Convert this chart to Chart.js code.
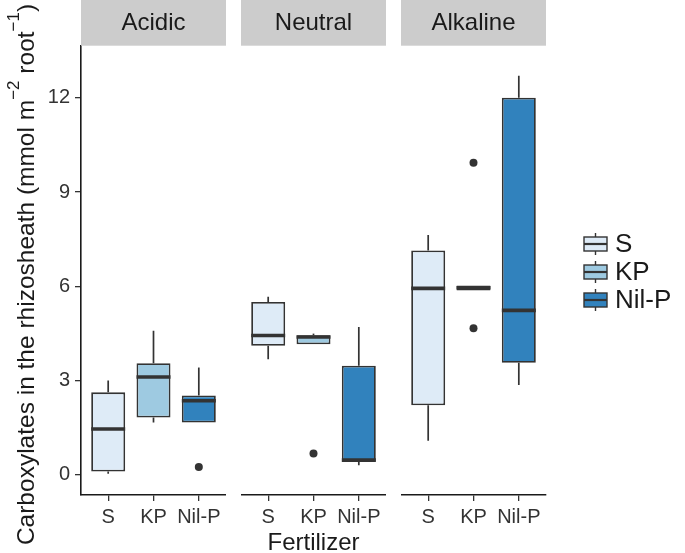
<!DOCTYPE html>
<html><head><meta charset="utf-8">
<script src="https://cdn.jsdelivr.net/npm/chart.js@4/dist/chart.umd.min.js"></script>
<style>
html,body{margin:0;padding:0;background:#fff;}
#wrap{position:relative;width:685px;height:553px;overflow:hidden;background:#fff;}
canvas{position:absolute;top:0;}
</style></head><body>
<div id="wrap">
<canvas id="c0" style="left:0px" width="226" height="553"></canvas>
<canvas id="c1" style="left:241px" width="145" height="553"></canvas>
<canvas id="c2" style="left:401px" width="284" height="553"></canvas>
</div>
<script>
// ---------- data ----------
const soils = ["Acidic", "Neutral", "Alkaline"];
const fertilizers = ["S", "KP", "Nil-P"];
const fillColors = ["#DEEBF7", "#9ECAE1", "#3182BD"];
const yTicks = [0, 3, 6, 9, 12];
const xTitle = "Fertilizer";
const yTitleParts = [
  {text: "Carboxylates in the rhizosheath (mmol m", sup: false},
  {text: "\u22122", sup: true},
  {text: " root", sup: false},
  {text: "\u22121", sup: true},
  {text: ")", sup: false}
];

// values per fertilizer [S, KP, Nil-P]
const acidicMin      = [0.03, 1.66, 1.66];
const acidicQ1       = [0.10, 1.82, 1.66];
const acidicMedian   = [1.45, 3.11, 2.35];
const acidicQ3       = [2.62, 3.55, 2.52];
const acidicMax      = [3.00, 4.58, 3.41];
const acidicOutliers = [[], [], [0.24]];

const neutralMin      = [3.67, 4.15, 0.30];
const neutralQ1       = [4.10, 4.15, 0.41];
const neutralMedian   = [4.43, 4.38, 0.46];
const neutralQ3       = [5.50, 4.44, 3.47];
const neutralMax      = [5.66, 4.49, 4.70];
const neutralOutliers = [[], [0.67], []];

const alkalineMin      = [1.08, 5.86, 2.85];
const alkalineQ1       = [2.21, 5.86, 3.56];
const alkalineMedian   = [5.93, 5.95, 5.23];
const alkalineQ3       = [7.14, 6.02, 12.00];
const alkalineMax      = [7.63, 6.02, 12.70];
const alkalineOutliers = [[], [9.93, 4.66], []];

const panels = [
  {min: acidicMin, q1: acidicQ1, med: acidicMedian, q3: acidicQ3, max: acidicMax, out: acidicOutliers},
  {min: neutralMin, q1: neutralQ1, med: neutralMedian, q3: neutralQ3, max: neutralMax, out: neutralOutliers},
  {min: alkalineMin, q1: alkalineQ1, med: alkalineMedian, q3: alkalineQ3, max: alkalineMax, out: alkalineOutliers}
];

// ---------- style ----------
const FONT = '"Liberation Sans", Arial, Helvetica, sans-serif';
const DARK = '#333333';

function makeBoxPlugin(st) {
  return {
    id: 'boxParts',
    beforeDatasetsDraw(chart) {
      const {ctx, scales: {x, y}} = chart;
      ctx.save();
      ctx.strokeStyle = DARK; ctx.lineWidth = 1.7;
      st.med.forEach((m, i) => {
        const px = x.getPixelForValue(i + 1);
        ctx.beginPath();
        ctx.moveTo(px, y.getPixelForValue(st.max[i])); ctx.lineTo(px, y.getPixelForValue(st.q3[i]));
        ctx.moveTo(px, y.getPixelForValue(st.q1[i])); ctx.lineTo(px, y.getPixelForValue(st.min[i]));
        ctx.stroke();
      });
      ctx.restore();
    },
    afterDatasetsDraw(chart) {
      const {ctx, scales: {y}} = chart;
      const meta = chart.getDatasetMeta(0);
      ctx.save();
      ctx.strokeStyle = DARK; ctx.lineWidth = 3.6; ctx.lineCap = 'butt';
      st.med.forEach((m, i) => {
        const bar = meta.data[i];
        const py = y.getPixelForValue(m);
        ctx.beginPath();
        ctx.moveTo(bar.x - bar.width / 2, py); ctx.lineTo(bar.x + bar.width / 2, py);
        ctx.stroke();
      });
      ctx.restore();
    }
  };
}

function makeStripPlugin(label) {
  return {
    id: 'strip',
    afterDraw(chart) {
      const {ctx, chartArea: a} = chart;
      ctx.save();
      ctx.fillStyle = '#CCCCCC';
      ctx.fillRect(a.left, 0, a.right - a.left, a.top - 0.3);
      ctx.fillStyle = '#1A1A1A';
      ctx.font = '24px ' + FONT;
      ctx.textAlign = 'center'; ctx.textBaseline = 'middle';
      ctx.fillText(label, (a.left + a.right) / 2, 23.5);
      ctx.restore();
    }
  };
}

const yTitlePlugin = {
  id: 'yTitle',
  afterDraw(chart) {
    const {ctx, chartArea: a} = chart;
    const size = 24.5, supSize = 17;
    ctx.save();
    ctx.translate(34, (a.top + a.bottom) / 2 + 4);
    ctx.rotate(-Math.PI / 2);
    ctx.fillStyle = '#1A1A1A';
    ctx.textBaseline = 'alphabetic';
    let total = 0;
    yTitleParts.forEach(p => { ctx.font = (p.sup ? supSize : size) + 'px ' + FONT; total += ctx.measureText(p.text).width; });
    let xx = -total / 2;
    yTitleParts.forEach(p => {
      ctx.font = (p.sup ? supSize : size) + 'px ' + FONT;
      ctx.fillText(p.text, xx, p.sup ? -15 : 0);
      xx += ctx.measureText(p.text).width;
    });
    ctx.restore();
  }
};

const legendPlugin = {
  id: 'boxLegend',
  afterDraw(chart) {
    const {ctx} = chart;
    const offsetLeft = 401;
    const rows = [244, 272, 300];
    ctx.save();
    fertilizers.forEach((f, i) => {
      const cy = rows[i];
      const x0 = 584 - offsetLeft, x1 = 607 - offsetLeft, cx = (x0 + x1) / 2;
      ctx.strokeStyle = DARK; ctx.lineWidth = 1.4;
      ctx.beginPath();
      ctx.moveTo(cx, cy - 11); ctx.lineTo(cx, cy - 7);
      ctx.moveTo(cx, cy + 7); ctx.lineTo(cx, cy + 11);
      ctx.stroke();
      ctx.fillStyle = fillColors[i];
      ctx.fillRect(x0, cy - 7, x1 - x0, 14);
      ctx.strokeRect(x0, cy - 7, x1 - x0, 14);
      ctx.lineWidth = 2.2;
      ctx.beginPath(); ctx.moveTo(x0, cy); ctx.lineTo(x1, cy); ctx.stroke();
      ctx.fillStyle = '#1A1A1A';
      ctx.font = '26px ' + FONT;
      ctx.textAlign = 'left'; ctx.textBaseline = 'middle';
      ctx.fillText(f, 615 - offsetLeft, cy + 1);
    });
    ctx.restore();
  }
};

function buildChart(canvasId, idx) {
  const st = panels[idx];
  const boxData = fertilizers.map((f, i) => ({x: i + 1, y: [st.q1[i], st.q3[i]]}));
  const outData = [];
  st.out.forEach((arr, i) => arr.forEach(v => outData.push({x: i + 1, y: v})));
  const first = idx === 0;
  const last = idx === 2;
  const plugins = [makeBoxPlugin(st), makeStripPlugin(soils[idx])];
  if (first) plugins.push(yTitlePlugin);
  if (last) plugins.push(legendPlugin);
  return new Chart(document.getElementById(canvasId), {
    type: 'bar',
    data: {
      datasets: [
        {type: 'bar', data: boxData, backgroundColor: fillColors, borderColor: DARK,
         borderWidth: 1.8, borderSkipped: false, barPercentage: 0.75, categoryPercentage: 1.0, order: 2},
        {type: 'scatter', data: outData, backgroundColor: DARK, borderWidth: 0,
         pointRadius: 4, showLine: false, order: 1}
      ]
    },
    options: {
      responsive: false,
      animation: false,
      events: [],
      layout: {autoPadding: false, padding: {top: 46, left: 0, right: last ? 139 : 0, bottom: 0}},
      plugins: {legend: {display: false}, tooltip: {enabled: false}, title: {display: false}},
      scales: {
        x: {
          type: 'linear', min: 0.4, max: 3.6, offset: false,
          afterFit: s => { s.height = 58; s.paddingLeft = 0; s.paddingRight = 0; },
          afterBuildTicks: s => { s.ticks = fertilizers.map((f, i) => ({value: i + 1})); },
          ticks: {
            autoSkip: false, maxRotation: 0, padding: 4, color: '#333333',
            font: {size: 20, family: FONT},
            callback: v => fertilizers[Math.round(v) - 1]
          },
          grid: {display: true, offset: false, drawOnChartArea: false, drawTicks: true, tickLength: 6, color: DARK, lineWidth: 1.3},
          border: {display: true, color: '#1A1A1A', width: 1.6},
          title: {display: idx === 1, text: xTitle, color: '#1A1A1A',
                  font: {size: 24, family: FONT, lineHeight: 0.8}, padding: 0}
        },
        y: {
          display: first,
          min: -0.65, max: 13.65,
          afterFit: s => { if (first) s.width = 81; s.paddingTop = 0; s.paddingBottom = 0; },
          afterBuildTicks: s => { s.ticks = yTicks.map(v => ({value: v})); },
          ticks: {padding: 5, color: '#333333', font: {size: 20, family: FONT}},
          grid: {display: true, offset: false, drawOnChartArea: false, drawTicks: true, tickLength: 6, color: DARK, lineWidth: 1.3},
          border: {display: true, color: '#1A1A1A', width: 1.6}
        }
      }
    },
    plugins: plugins
  });
}

buildChart('c0', 0);
buildChart('c1', 1);
buildChart('c2', 2);
</script>
</body></html>
